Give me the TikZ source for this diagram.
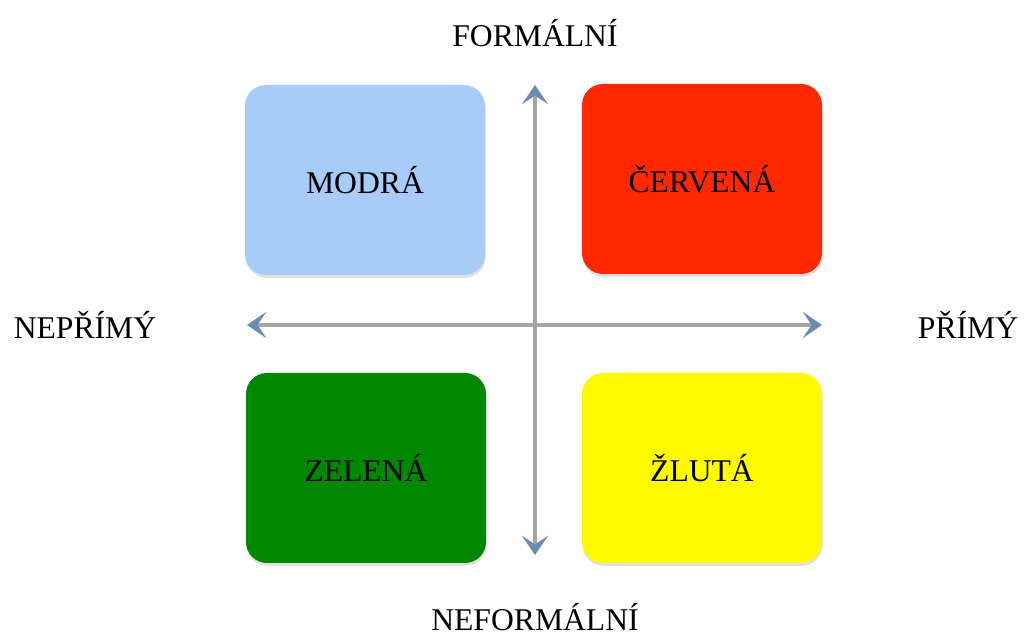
\documentclass[tikz,border=0pt]{standalone}
\usepackage{fontspec}
\setmainfont{Liberation Serif}
\usetikzlibrary{arrows.meta,shadows}
\definecolor{modra}{RGB}{168,204,250}
\definecolor{cervena}{RGB}{255,40,0}
\definecolor{zelena}{RGB}{0,136,0}
\definecolor{zluta}{RGB}{255,250,0}
\definecolor{osa}{RGB}{165,165,168}
\definecolor{hrot}{RGB}{105,140,180}
\tikzset{
    pole/.style={rounded corners=0.42cm, minimum width=4.8cm, minimum height=3.8cm,
        font=\fontsize{18}{20}\selectfont,
        drop shadow={opacity=0.25, shadow xshift=0.4pt, shadow yshift=-1.6pt}},
    popis/.style={font=\fontsize{18}{20}\selectfont},
    osa/.style={draw=osa, line width=2.4pt,
        {Stealth[length=11pt,width=15pt,inset=5pt,color=hrot]}-{Stealth[length=11pt,width=15pt,inset=5pt,color=hrot]}}
}
\begin{document}
\begin{tikzpicture}
    \useasboundingbox (0,0) rectangle (20.52,12.74);
    % axes
    \coordinate (nahore) at (10.70,11.04);
    \coordinate (dole) at (10.70,1.64);
    \coordinate (vlevo) at (4.94,6.24);
    \coordinate (vpravo) at (16.44,6.24);
    \draw[osa] (dole) -- (nahore);
    \draw[osa] (vlevo) -- (vpravo);
    % quadrants
    \node[pole, fill=modra] (modra) at (7.30,9.14) {MODRÁ};
    \node[pole, fill=cervena] (cervena) at (14.04,9.16) {ČERVENÁ};
    \node[pole, fill=zelena] (zelena) at (7.32,3.38) {ZELENÁ};
    \node[pole, fill=zluta] (zluta) at (14.04,3.38) {ŽLUTÁ};
    % labels
    \node[popis] (formalni) at (10.70,12.08) {FORMÁLNÍ};
    \node[popis] (neformalni) at (10.70,0.40) {NEFORMÁLNÍ};
    \node[popis] (neprimy) at (1.70,6.24) {NEPŘÍMÝ};
    \node[popis] (primy) at (19.36,6.24) {PŘÍMÝ};
\end{tikzpicture}
\end{document}
